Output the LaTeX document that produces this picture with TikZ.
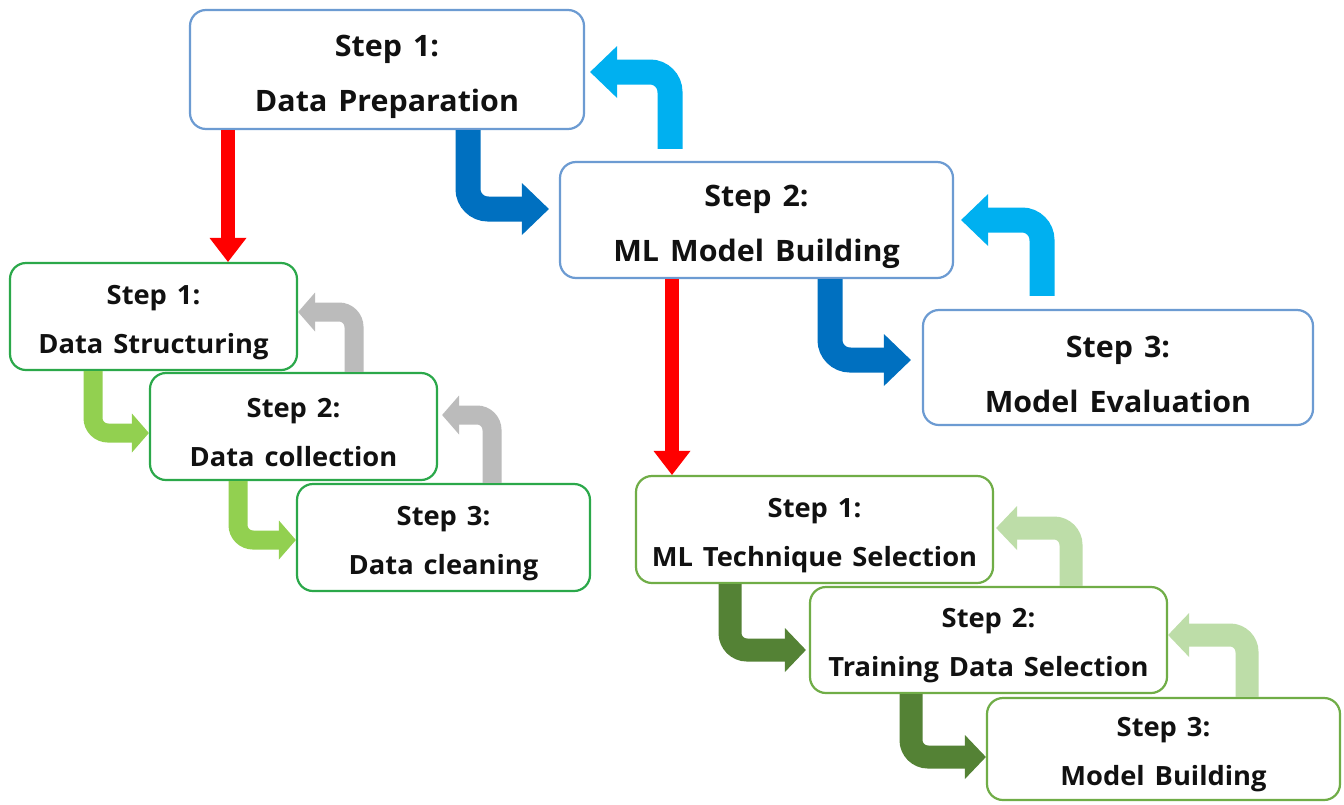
\documentclass[tikz,border=0pt]{standalone}
\usepackage{fontspec}
\setmainfont{Open Sans}[WordSpace=1.4, FakeStretch=1.03]
\usetikzlibrary{arrows.meta}

\definecolor{frameblue}{HTML}{6C9BD2}
\definecolor{arrowdblue}{HTML}{0070C0}
\definecolor{arrowlblue}{HTML}{00B0F0}
\definecolor{arrowred}{HTML}{FF0000}
\definecolor{framegreen}{HTML}{2BA84A}
\definecolor{arrowlgreen}{HTML}{92D050}
\definecolor{arrowgrey}{HTML}{BBBBBB}
\definecolor{frameolive}{HTML}{70AD47}
\definecolor{arrowdgreen}{HTML}{548235}
\definecolor{arrowpgreen}{HTML}{BDDDA8}
\definecolor{ink}{HTML}{111111}

\tikzset{
  box/.style={draw, line width=2.2pt, rounded corners=16pt, fill=white, inner sep=0pt},
  bigbox/.style={box, draw=frameblue},
  leftbox/.style={box, draw=framegreen, minimum height=107pt},
  rightbox/.style={box, draw=frameolive},
  bigtxt/.style={text=ink, align=center, font=\fontsize{29.5}{55}\selectfont\bfseries, yshift=-7pt},
  smalltxt/.style={text=ink, align=center, font=\fontsize{26.5}{49}\selectfont\bfseries, yshift=-6pt},
  downarrow/.style={draw=arrowred, line width=14pt,
    -{Triangle[width=37pt, length=24pt, line width=0pt]}},
  bigbend/.style={line width=25pt, rounded corners=20pt,
    -{Triangle[width=52pt, length=27pt, line width=0pt]}},
  leftbend/.style={line width=19pt, rounded corners=15pt,
    -{Triangle[width=39pt, length=17pt, line width=0pt]}},
  rightbend/.style={line width=23pt, rounded corners=17pt,
    -{Triangle[width=44pt, length=21pt, line width=0pt]}},
}

\begin{document}
\begin{tikzpicture}[x=1pt, y=-1pt]
\useasboundingbox (0,0) rectangle (1344,804);
\fill[white] (0,0) rectangle (1344,804);

% main stages
\node[bigbox, minimum width=394pt, minimum height=119pt] (A) at (387,69.5) {};
\node[bigbox, minimum width=393pt, minimum height=116pt] (B) at (756.5,220) {};
\node[bigbox, minimum width=390pt, minimum height=115pt] (C) at (1118,367.5) {};
\node[bigtxt] (At) at (A) {Step 1:\\Data Preparation};
\node[bigtxt] (Bt) at (B) {Step 2:\\ML Model Building};
\node[bigtxt] (Ct) at (C) {Step 3:\\Model Evaluation};

% data preparation sub-steps
\node[leftbox, minimum width=287pt] (D1) at (153.5,316.5) {};
\node[leftbox, minimum width=287pt] (D2) at (293.5,426.5) {};
\node[leftbox, minimum width=293pt] (D3) at (443.5,537.5) {};
\node[smalltxt] (D1t) at (D1) {Step 1:\\Data Structuring};
\node[smalltxt] (D2t) at (D2) {Step 2:\\Data collection};
\node[smalltxt] (D3t) at (D3) {Step 3:\\Data cleaning};

% model building sub-steps
\node[rightbox, minimum width=357pt, minimum height=107pt] (E1) at (814.5,529.5) {};
\node[rightbox, minimum width=357pt, minimum height=106pt] (E2) at (988.5,640) {};
\node[rightbox, minimum width=353pt, minimum height=102pt] (E3) at (1163.5,749) {};
\node[smalltxt] (E1t) at (E1) {Step 1:\\ML Technique Selection};
\node[smalltxt] (E2t) at (E2) {Step 2:\\Training Data Selection};
\node[smalltxt] (E3t) at (E3) {Step 3:\\Model Building};

% expansion arrows
\draw[downarrow] (A.south -| 228,0) -- (D1.north -| 228,0);
\draw[downarrow] (B.south -| 672,0) -- (E1.north -| 672,0);

% main flow
\draw[bigbend, draw=arrowdblue, shorten >=10pt] (A.south -| 468,0) |- (B.west |- 0,209);
\draw[bigbend, draw=arrowdblue, shorten >=11pt] (B.south -| 830,0) |- (C.west |- 0,360);
\draw[bigbend, draw=arrowlblue, shorten <=12pt, shorten >=5pt] (B.north -| 670,0) |- (A.east |- 0,72);
\draw[bigbend, draw=arrowlblue, shorten <=13pt, shorten >=7pt] (C.north -| 1042,0) |- (B.east |- 0,220);

% data preparation flow
\draw[leftbend, draw=arrowlgreen] (D1.south -| 93,0) |- (D2.west |- 0,433);
\draw[leftbend, draw=arrowlgreen] (D2.south -| 238,0) |- (D3.west |- 0,540);
\draw[leftbend, draw=arrowgrey] (D2.north -| 354,0) |- (D1.east |- 0,312);
\draw[leftbend, draw=arrowgrey, shorten >=4pt] (D3.north -| 492,0) |- (D2.east |- 0,415);

% model building flow
\draw[rightbend, draw=arrowdgreen, shorten >=3pt] (E1.south -| 730,0) |- (E2.west |- 0,650);
\draw[rightbend, draw=arrowdgreen] (E2.south -| 911,0) |- (E3.west |- 0,757);
\draw[rightbend, draw=arrowpgreen, shorten >=2pt] (E2.north -| 1071,0) |- (E1.east |- 0,528);
\draw[rightbend, draw=arrowpgreen] (E3.north -| 1247,0) |- (E2.east |- 0,635);
\end{tikzpicture}
\end{document}
